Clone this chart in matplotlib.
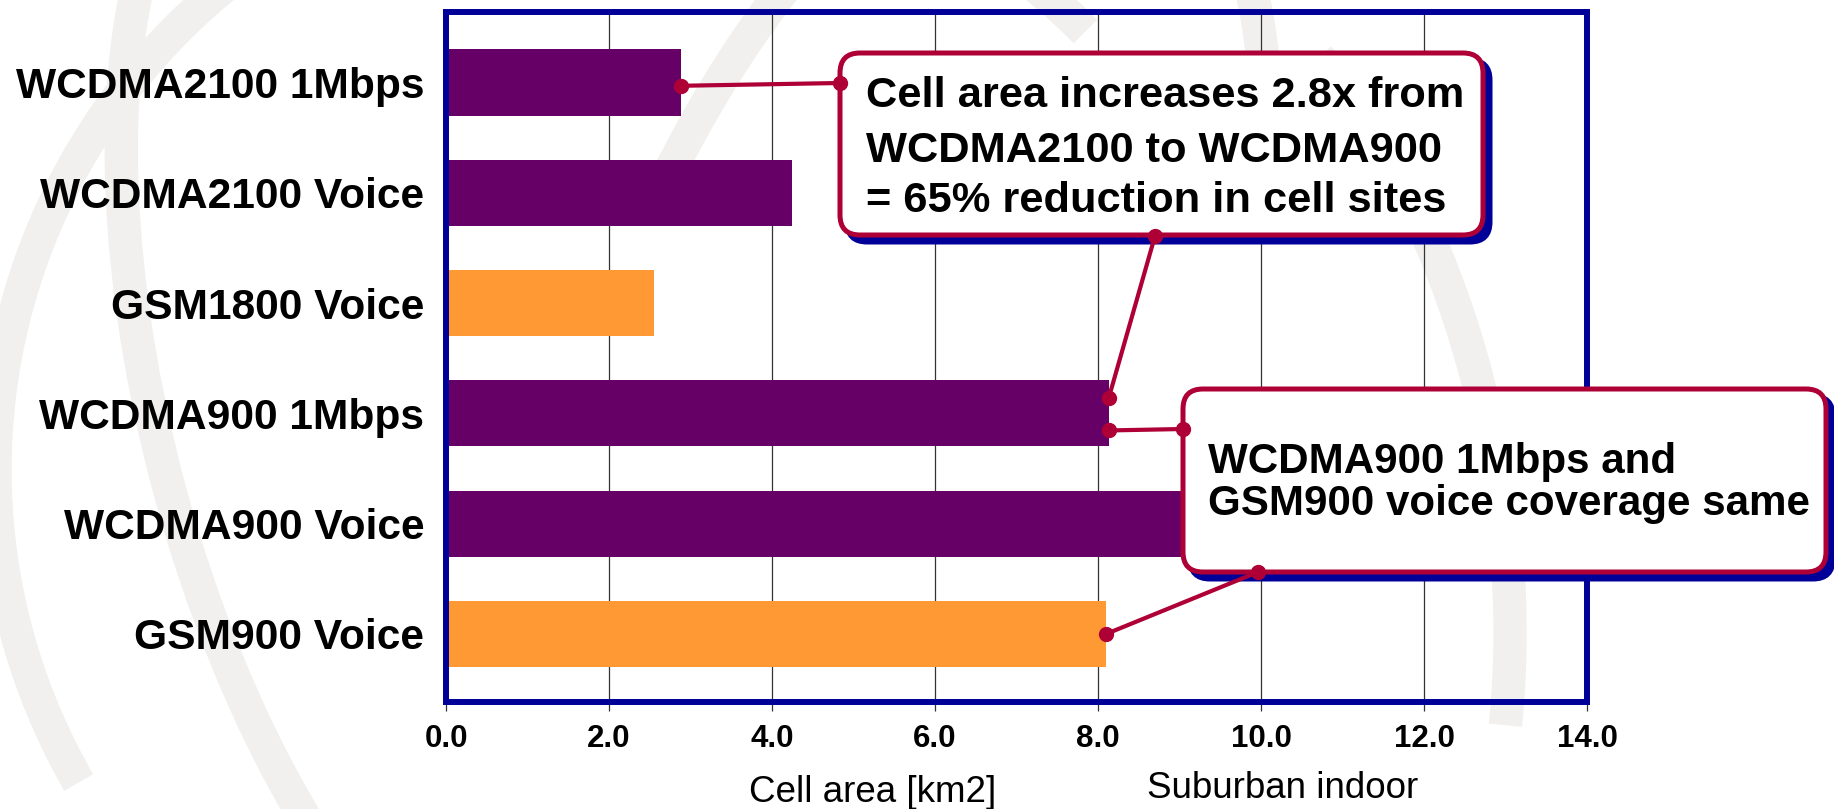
import numpy as np
import matplotlib
matplotlib.use("Agg")
import matplotlib.pyplot as plt
from matplotlib.patches import FancyBboxPatch, Arc

# ─── Data ───
categories = ["WCDMA2100 1Mbps", "WCDMA2100 Voice", "GSM1800 Voice",
              "WCDMA900 1Mbps", "WCDMA900 Voice", "GSM900 Voice"]
cell_area = [2.88, 4.25, 2.55, 8.13, 11.9, 8.10]   # km2, suburban indoor
is_gsm = [False, False, True, False, False, True]
x_ticks = [0.0, 2.0, 4.0, 6.0, 8.0, 10.0, 12.0, 14.0]
x_tick_labels = ["0.0", "2.0", "4.0", "6.0", "8.0", "10.0", "12.0", "14.0"]
note_sites = ["Cell area increases 2.8x from", "WCDMA2100 to WCDMA900",
              "= 65% reduction in cell sites"]
note_same = ["WCDMA900 1Mbps and", "GSM900 voice coverage same"]

# ─── Style ───
PURPLE = "#660066"
ORANGE = "#FF9933"
NAVY = "#000099"
CRIMSON = "#AE0036"
WATERMARK = "#F1F0EE"
W, H = 1834, 809

plt.rcParams["font.family"] = ["Liberation Sans", "DejaVu Sans"]

fig = plt.figure(figsize=(W / 100, H / 100), dpi=100)

# faint globe watermark behind everything (pixel coords, y down)
bg = fig.add_axes([0, 0, 1, 1], zorder=-5)
bg.set_xlim(0, W)
bg.set_ylim(H, 0)
bg.axis("off")
arcs = [
    # (cx, cy, width, height, angle, theta1, theta2)
    (620, 470, 1250, 1250, 0, 150, 250),
    (420, 420, 520, 1250, -15, 100, 260),
    (900, 420, 620, 1300, 20, 200, 300),
    (1150, 520, 700, 1200, -10, 300, 400),
    (760, 60, 900, 420, 25, 180, 330),
]
for cx, cy, w, h, ang, t1, t2 in arcs:
    bg.add_patch(Arc((cx, cy), w, h, angle=ang, theta1=t1, theta2=t2,
                     color=WATERMARK, lw=24))

# ─── Bars ───
ax = fig.add_axes([446 / W, (H - 702) / H, (1587 - 446) / W, (702 - 12) / H])
ax.patch.set_alpha(0)
pos = np.arange(len(categories))[::-1]
colors = [ORANGE if g else PURPLE for g in is_gsm]
ax.barh(pos, cell_area, height=0.6, color=colors, zorder=2)

ax.set_xlim(0, 14)
ax.set_ylim(-0.617, 5.639)
ax.set_xticks(x_ticks, x_tick_labels, fontsize=22.5, fontweight="bold")
ax.set_yticks(pos, categories, fontsize=30.6, fontweight="bold")
ax.tick_params(axis="y", length=0, pad=15.5)
ax.tick_params(axis="x", length=6.5, width=0.9, color="#333333", pad=9)
ax.grid(axis="x", color="#333333", lw=0.9)
ax.set_axisbelow(True)
for sp in ax.spines.values():
    sp.set_color(NAVY)
    sp.set_linewidth(4.3)

fig.text(873 / W, (H - 802) / H, "Cell area [km2]", fontsize=26.5,
         ha="center", va="baseline")
fig.text(1283 / W, (H - 798) / H, "Suburban indoor", fontsize=26.5,
         ha="center", va="baseline")

# ─── Callouts ───
ov = fig.add_axes([0, 0, 1, 1], zorder=5)
ov.set_xlim(0, W)
ov.set_ylim(H, 0)
ov.axis("off")


def to_px(x, y):
    return ov.transData.inverted().transform(ax.transData.transform((x, y)))


def callout(x0, y0, x1, y1):
    shadow = FancyBboxPatch((x0 + 7, y0 + 7), x1 - x0, y1 - y0,
                            boxstyle="round,pad=0,rounding_size=20",
                            fc=NAVY, ec=NAVY, lw=3.6)
    box = FancyBboxPatch((x0, y0), x1 - x0, y1 - y0,
                         boxstyle="round,pad=0,rounding_size=20",
                         fc="white", ec=CRIMSON, lw=3.6)
    ov.add_patch(shadow)
    ov.add_patch(box)


def connector(p, q):
    ov.plot([p[0], q[0]], [p[1], q[1]], color=CRIMSON, lw=3,
            marker="o", ms=10, solid_capstyle="round")


callout(840, 53, 1483, 235)
callout(1183, 389, 1826, 572)

for line, base in zip(note_sites, [107, 162, 212]):
    ov.text(866, base, line, fontsize=31.2, fontweight="bold", va="baseline")
for line, base in zip(note_same, [473, 515]):
    ov.text(1208, base, line, fontsize=30.3, fontweight="bold", va="baseline")

i_2100 = categories.index("WCDMA2100 1Mbps")
i_900 = categories.index("WCDMA900 1Mbps")
i_gsm = categories.index("GSM900 Voice")
connector(to_px(cell_area[i_2100], pos[i_2100] - 0.03), (840, 83))
connector((1155, 236), to_px(cell_area[i_900], pos[i_900] + 0.135))
connector(to_px(cell_area[i_900], pos[i_900] - 0.155), (1183, 429))
connector((1258, 572), to_px(cell_area[i_gsm], pos[i_gsm]))

fig.savefig("out.png", dpi=100)
